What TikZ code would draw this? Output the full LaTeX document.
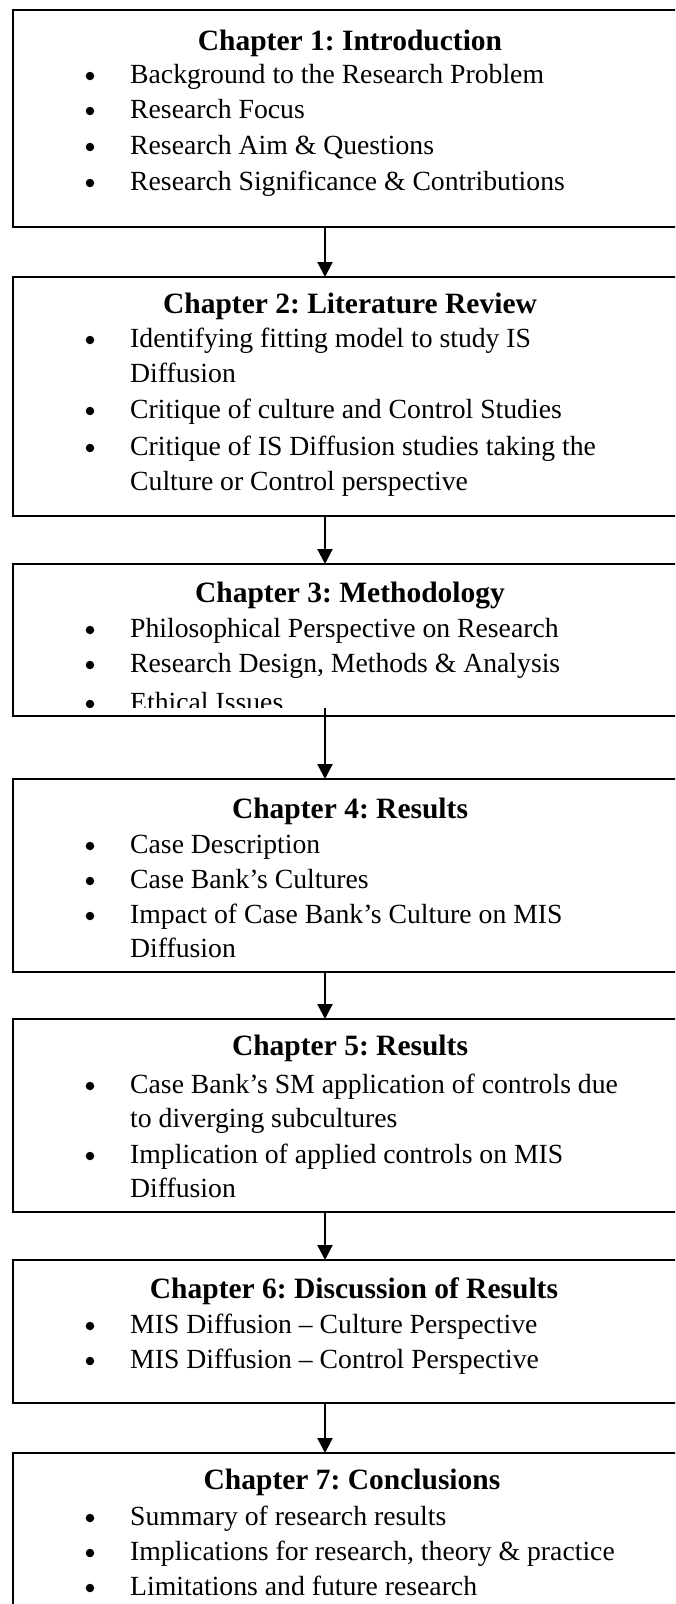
\documentclass[tikz,border=0pt]{standalone}
\usepackage{fontspec}
\setmainfont{Liberation Serif}
\usetikzlibrary{arrows.meta}
\frenchspacing
\tikzset{
  chbox/.style={draw, line width=2.2pt, rectangle, inner sep=0pt, outer sep=0pt,
    minimum width=677pt, anchor=north west},
  chtitle/.style={anchor=base, font=\fontsize{29.5}{33}\selectfont\bfseries, inner sep=0pt},
  itemtext/.style={anchor=base west, font=\fontsize{27.7}{33}\selectfont, inner sep=0pt},
  bulletdot/.style={circle, fill, inner sep=0pt, minimum size=8.5pt},
  flow/.style={line width=2.2pt, -{Triangle[width=15pt,length=15pt]}},
}
\newcommand{\bitem}[3]{%
  \node[bulletdot] (#1d) at (90,#2-7) {};
  \node[itemtext] (#1) at (130,#2) {#3};}
\newcommand{\citem}[3]{\node[itemtext] (#1) at (130,#2) {#3};}
\begin{document}
\begin{tikzpicture}[x=1pt,y=-1pt]
\useasboundingbox (0,0) rectangle (675,1604);
\clip (0,0) rectangle (675,1604);
\fill[white] (0,0) rectangle (675,1604);

% boxes
\node[chbox, minimum height=217pt] (b1) at (13,10) {};
\node[chbox, minimum height=239pt] (b2) at (13,277) {};
\node[chbox, minimum height=152pt] (b3) at (13,564) {};
\node[chbox, minimum height=193pt] (b4) at (13,779) {};
\node[chbox, minimum height=193pt] (b5) at (13,1019) {};
\node[chbox, minimum height=143pt] (b6) at (13,1260) {};
\node[chbox, minimum height=180pt] (b7) at (13,1453) {};

% chapter 1
\node[chtitle] (t1) at (350,50) {Chapter 1: Introduction};
\bitem{i11}{83}{Background to the Research Problem}
\bitem{i12}{118}{Research Focus}
\bitem{i13}{154}{Research Aim \& Questions}
\bitem{i14}{190}{Research Significance \& Contributions}

% chapter 2
\node[chtitle] (t2) at (350,313) {Chapter 2: Literature Review};
\bitem{i21}{347}{Identifying fitting model to study IS}
\citem{i21b}{382}{Diffusion}
\bitem{i22}{418}{Critique of culture and Control Studies}
\bitem{i23}{455}{Critique of IS Diffusion studies taking the}
\citem{i23b}{490}{Culture or Control perspective}

% chapter 3
\node[chtitle] (t3) at (350,602) {Chapter 3: Methodology};
\bitem{i31}{637}{Philosophical Perspective on Research}
\bitem{i32}{672}{Research Design, Methods \& Analysis}
\begin{scope}
  \clip (0,0) rectangle (690,707.5);
  \bitem{i33}{711}{Ethical Issues}
\end{scope}

% chapter 4
\node[chtitle] (t4) at (350,818) {Chapter 4: Results};
\bitem{i41}{853}{Case Description}
\bitem{i42}{888}{Case Bank’s Cultures}
\bitem{i43}{923}{Impact of Case Bank’s Culture on MIS}
\citem{i43b}{957}{Diffusion}

% chapter 5
\node[chtitle] (t5) at (350,1055) {Chapter 5: Results};
\bitem{i51}{1093}{Case Bank’s SM application of controls due}
\citem{i51b}{1127}{to diverging subcultures}
\bitem{i52}{1163}{Implication of applied controls on MIS}
\citem{i52b}{1197}{Diffusion}

% chapter 6
\node[chtitle] (t6) at (354,1298) {Chapter 6: Discussion of Results};
\bitem{i61}{1333}{MIS Diffusion – Culture Perspective}
\bitem{i62}{1368}{MIS Diffusion – Control Perspective}

% chapter 7
\node[chtitle] (t7) at (352,1489) {Chapter 7: Conclusions};
\bitem{i71}{1525}{Summary of research results}
\bitem{i72}{1560}{Implications for research, theory \& practice}
\bitem{i73}{1595}{Limitations and future research}

% connectors
\coordinate (ax) at (325,0);
\coordinate (a3s) at (325,708);
\draw[flow] (b1.south -| ax) -- (b2.north -| ax);
\draw[flow] (b2.south -| ax) -- (b3.north -| ax);
\draw[flow] (a3s) -- (b4.north -| ax);
\draw[flow] (b4.south -| ax) -- (b5.north -| ax);
\draw[flow] (b5.south -| ax) -- (b6.north -| ax);
\draw[flow] (b6.south -| ax) -- (b7.north -| ax);
\end{tikzpicture}
\end{document}
